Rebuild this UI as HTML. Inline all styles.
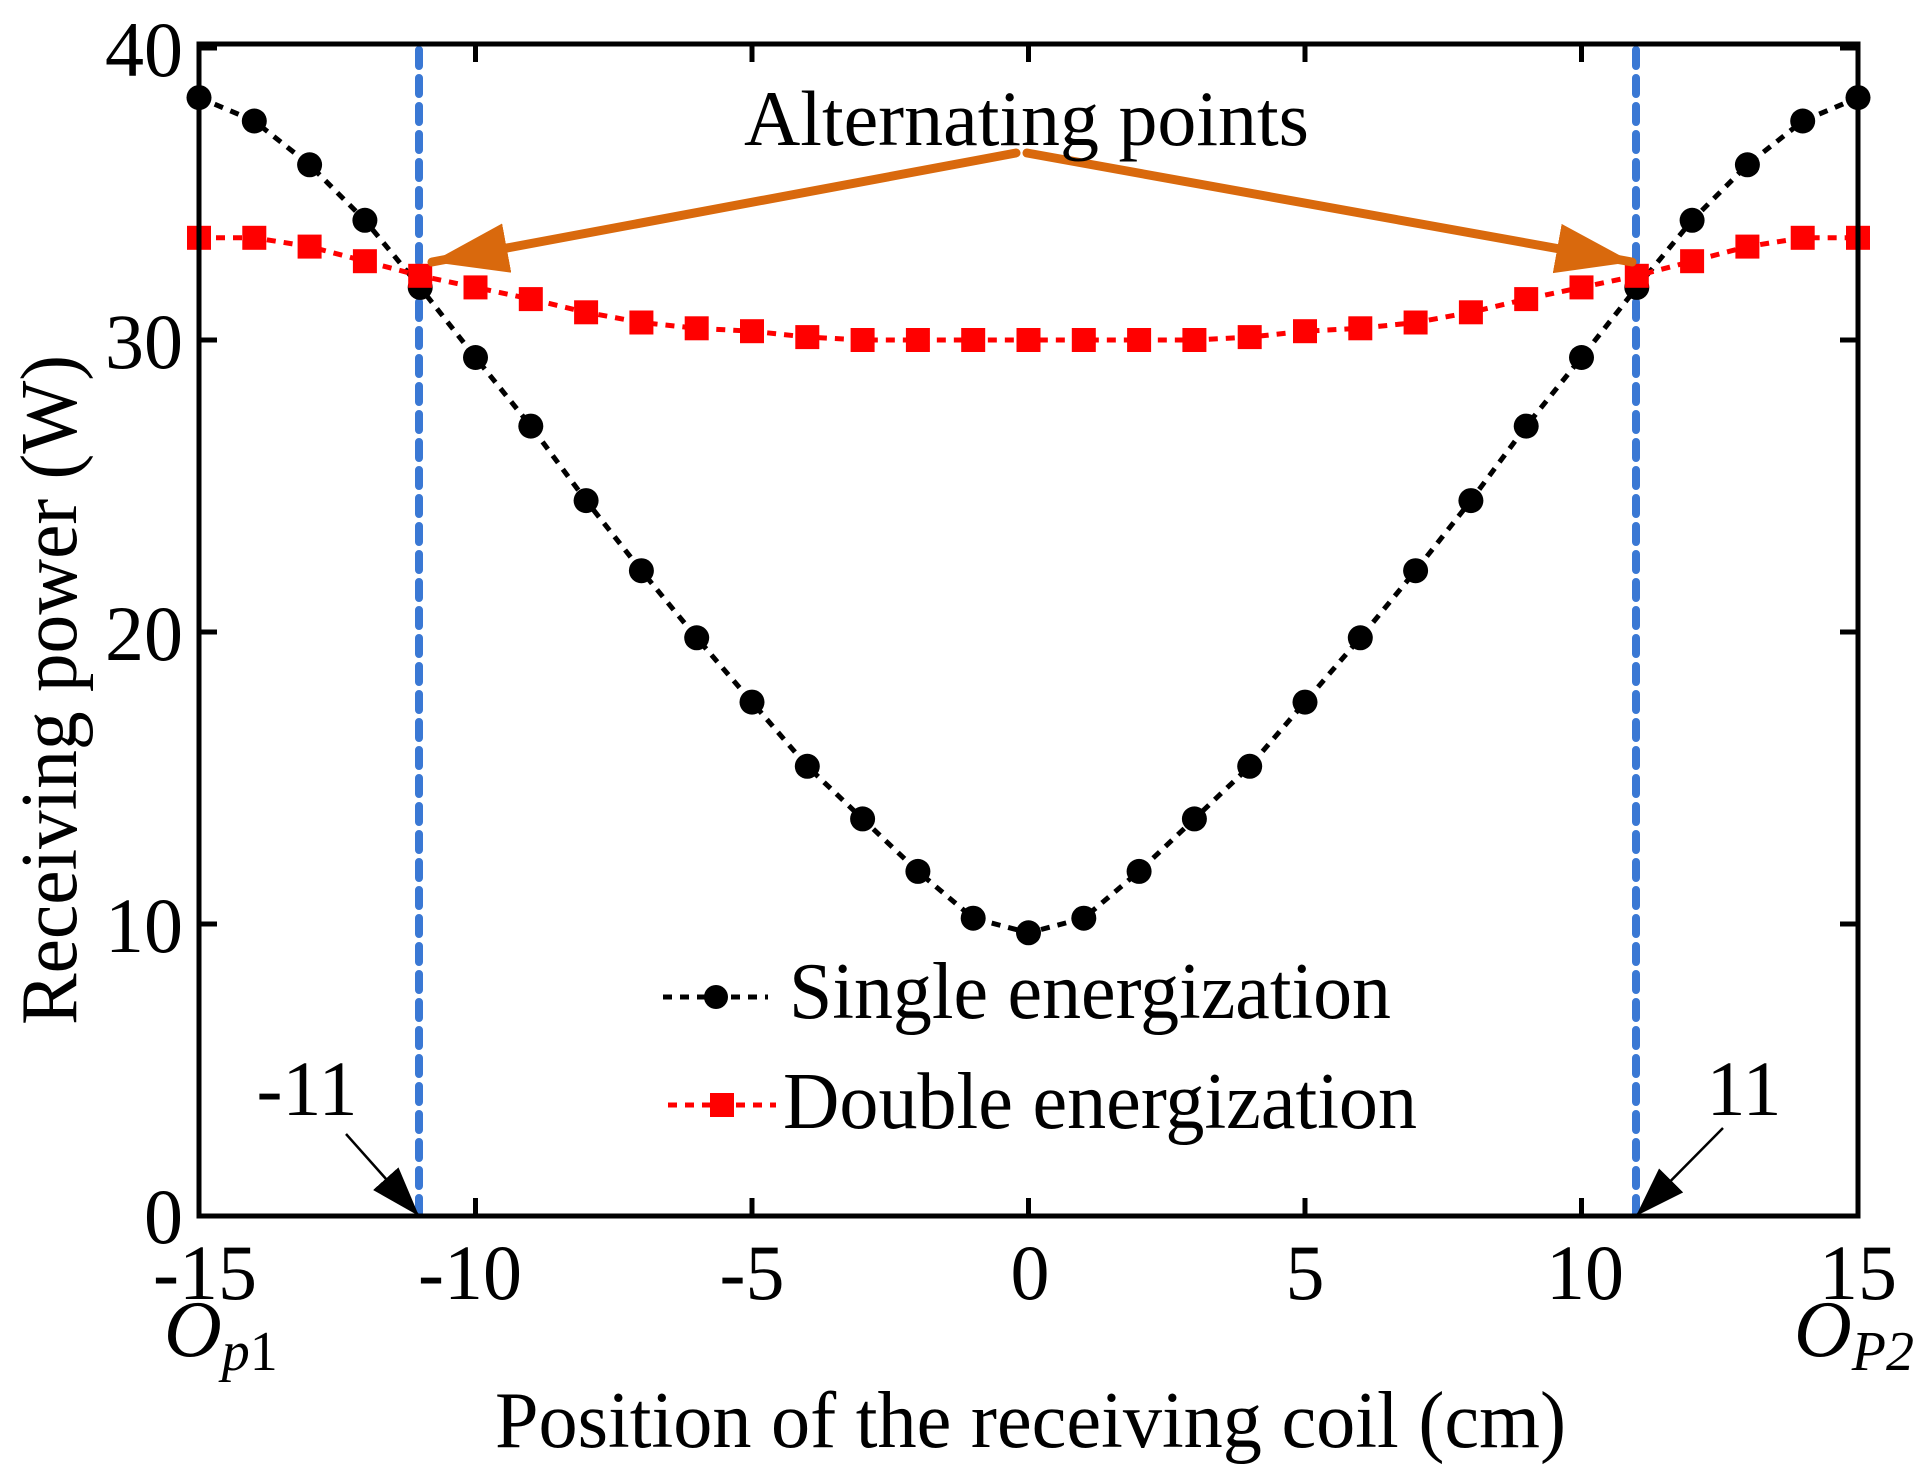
<!DOCTYPE html>
<html><head><meta charset="utf-8"><style>
html,body{margin:0;padding:0;background:#fff;}
svg{display:block;}
text{font-family:"Liberation Serif",serif;fill:#000;}
</style></head><body>
<svg width="1916" height="1470" viewBox="0 0 1916 1470" xmlns="http://www.w3.org/2000/svg">
<defs>
<marker id="oa" markerUnits="userSpaceOnUse" markerWidth="80" markerHeight="60" refX="76" refY="25" orient="auto">
<path d="M0,0 L76,25 L0,50 Z" fill="#d9690d"/>
</marker>
<marker id="ba" markerUnits="userSpaceOnUse" markerWidth="60" markerHeight="40" refX="50" refY="17" orient="auto">
<path d="M0,0 L50,17 L0,34 Z" fill="#000"/>
</marker>
<marker id="dot" markerUnits="userSpaceOnUse" markerWidth="30" markerHeight="30" refX="15" refY="15" orient="0">
<circle cx="15" cy="15" r="12.5" fill="#000"/>
</marker>
<marker id="sq" markerUnits="userSpaceOnUse" markerWidth="30" markerHeight="30" refX="15" refY="15" orient="0">
<rect x="3" y="3" width="24" height="24" fill="#f00"/>
</marker>
</defs>
<line x1="419" y1="50" x2="419" y2="1216" stroke="#3a78d4" stroke-width="8" stroke-dasharray="16,12" stroke-linecap="round"/>
<line x1="1636" y1="50" x2="1636" y2="1216" stroke="#3a78d4" stroke-width="8" stroke-dasharray="16,12" stroke-linecap="round"/>
<polyline fill="none" stroke="#000" stroke-width="5" stroke-dasharray="9,8" marker-start="url(#dot)" marker-mid="url(#dot)" marker-end="url(#dot)" points="199,97.6 254.3,121 309.6,164.8 364.9,220.3 420.2,287.4 475.5,357.5 530.8,426.1 586.1,500.6 641.4,570.7 696.7,637.8 752,702.1 807.3,766.3 862.6,818.9 917.9,871.4 973.2,918.2 1028.5,932.8 1083.8,918.2 1139.1,871.4 1194.4,818.9 1249.7,766.3 1305,702.1 1360.3,637.8 1415.6,570.7 1470.9,500.6 1526.2,426.1 1581.5,357.5 1636.8,287.4 1692.1,220.3 1747.4,164.8 1802.7,121 1858,97.6"/>
<polyline fill="none" stroke="#f00" stroke-width="5" stroke-dasharray="9,8" marker-start="url(#sq)" marker-mid="url(#sq)" marker-end="url(#sq)" points="199,237.8 254.3,237.8 309.6,246.6 364.9,261.2 420.2,275.8 475.5,287.4 530.8,299.1 586.1,312.3 641.4,322.5 696.7,328.3 752,331.2 807.3,337.1 862.6,340 917.9,340 973.2,340 1028.5,340 1083.8,340 1139.1,340 1194.4,340 1249.7,337.1 1305,331.2 1360.3,328.3 1415.6,322.5 1470.9,312.3 1526.2,299.1 1581.5,287.4 1636.8,275.8 1692.1,261.2 1747.4,246.6 1802.7,237.8 1858,237.8"/>
<rect x="199" y="44" width="1659" height="1172" fill="none" stroke="#000" stroke-width="5"/>
<g stroke="#000" stroke-width="5">
<line x1="475.5" y1="1216" x2="475.5" y2="1198"/><line x1="475.5" y1="44" x2="475.5" y2="62"/>
<line x1="752" y1="1216" x2="752" y2="1198"/><line x1="752" y1="44" x2="752" y2="62"/>
<line x1="1028.5" y1="1216" x2="1028.5" y2="1198"/><line x1="1028.5" y1="44" x2="1028.5" y2="62"/>
<line x1="1305" y1="1216" x2="1305" y2="1198"/><line x1="1305" y1="44" x2="1305" y2="62"/>
<line x1="1581.5" y1="1216" x2="1581.5" y2="1198"/><line x1="1581.5" y1="44" x2="1581.5" y2="62"/>
<line x1="199" y1="924" x2="217" y2="924"/><line x1="1858" y1="924" x2="1840" y2="924"/>
<line x1="199" y1="632" x2="217" y2="632"/><line x1="1858" y1="632" x2="1840" y2="632"/>
<line x1="199" y1="340" x2="217" y2="340"/><line x1="1858" y1="340" x2="1840" y2="340"/>
<line x1="199" y1="48" x2="217" y2="48"/><line x1="1858" y1="48" x2="1840" y2="48"/>
</g>
<line x1="1016" y1="153" x2="432" y2="262" stroke="#d9690d" stroke-width="9" stroke-linecap="round" marker-end="url(#oa)"/>
<line x1="1027" y1="153" x2="1632" y2="262" stroke="#d9690d" stroke-width="9" stroke-linecap="round" marker-end="url(#oa)"/>
<text x="744" y="145" font-size="78" textLength="565" lengthAdjust="spacingAndGlyphs">Alternating points</text>
<line x1="346" y1="1134" x2="419" y2="1216" stroke="#000" stroke-width="2.5" marker-end="url(#ba)"/>
<line x1="1723" y1="1128" x2="1636" y2="1216" stroke="#000" stroke-width="2.5" marker-end="url(#ba)"/>
<text x="307" y="1115" font-size="78" text-anchor="middle">-11</text>
<text x="1744" y="1115" font-size="78" text-anchor="middle">11</text>
<line x1="663" y1="997" x2="768" y2="997" stroke="#000" stroke-width="5" stroke-dasharray="9,8"/>
<circle cx="716" cy="997" r="12" fill="#000"/>
<text x="789" y="1018" font-size="80" textLength="602" lengthAdjust="spacingAndGlyphs">Single energization</text>
<line x1="668" y1="1105" x2="776" y2="1105" stroke="#f00" stroke-width="5" stroke-dasharray="9,8"/>
<rect x="710" y="1093" width="24" height="24" fill="#f00"/>
<text x="783" y="1128" font-size="80" textLength="634" lengthAdjust="spacingAndGlyphs">Double energization</text>
<g font-size="78" text-anchor="end">
<text x="183" y="76">40</text>
<text x="183" y="368">30</text>
<text x="183" y="660">20</text>
<text x="183" y="952">10</text>
<text x="183" y="1243">0</text>
</g>
<g font-size="78" text-anchor="middle">
<text x="205" y="1299">-15</text>
<text x="470" y="1299">-10</text>
<text x="752" y="1299">-5</text>
<text x="1030" y="1299">0</text>
<text x="1305" y="1299">5</text>
<text x="1585" y="1299">10</text>
<text x="1858" y="1299">15</text>
</g>
<text x="164" y="1356" font-size="80" font-style="italic">O<tspan font-size="56" dy="14">p</tspan><tspan font-size="56" font-style="normal">1</tspan></text>
<text x="1794" y="1356" font-size="80" font-style="italic">O<tspan font-size="56" dy="14">P2</tspan></text>
<text x="495" y="1447" font-size="80" textLength="1071" lengthAdjust="spacingAndGlyphs">Position of the receiving coil (cm)</text>
<text transform="translate(76,690) rotate(-90)" font-size="80" text-anchor="middle" textLength="670" lengthAdjust="spacingAndGlyphs">Receiving power (W)</text>
</svg>
</body></html>
